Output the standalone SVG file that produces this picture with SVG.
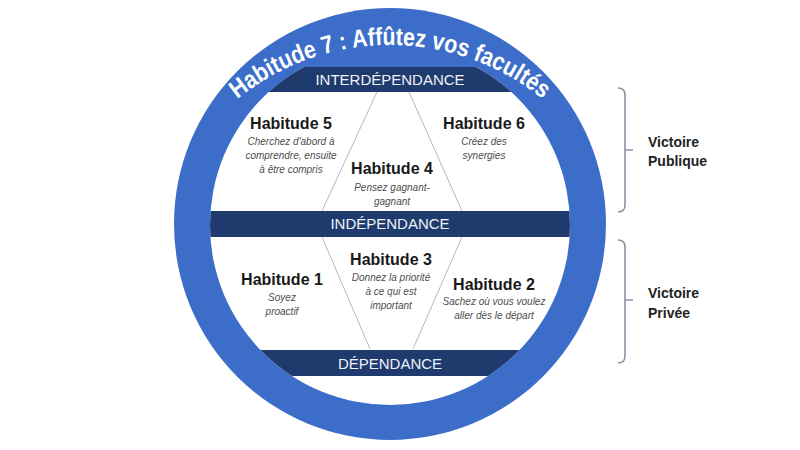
<svg xmlns="http://www.w3.org/2000/svg" width="800" height="450" viewBox="0 0 800 450">
<style>
.hdr{font-family:"Liberation Sans",Arial,sans-serif;font-weight:bold;font-size:16px;fill:#1a1a1a;text-anchor:middle}
.sub{font-family:"Liberation Sans",Arial,sans-serif;font-style:italic;font-size:10px;fill:#4d4d4d;text-anchor:middle}
.band{fill:#1f3a6d}
.bandtxt{font-family:"Liberation Sans",Arial,sans-serif;font-size:15px;fill:#eef2fa;text-anchor:middle}
.hex{stroke:#b8b8b8;stroke-width:1;fill:none}
.brk{stroke:#8a93a6;stroke-width:1.6;fill:none}
.vic{font-family:"Liberation Sans",Arial,sans-serif;font-weight:bold;font-size:14px;fill:#222}
.title{font-family:"Liberation Sans",Arial,sans-serif;font-weight:bold;font-size:25px;fill:#ffffff}
</style>
<defs>
<clipPath id="inner"><circle cx="390" cy="225" r="180"/></clipPath>
<clipPath id="belowtop"><rect x="0" y="67" width="800" height="400"/></clipPath>
<path id="arc" d="M180.4,166 A242,242 0 0 1 599.6,166"/>
</defs>
<rect width="800" height="450" fill="#ffffff"/>
<g id="ring">
<circle cx="390" cy="224" r="216" fill="#3b6dc9"/>
<g clip-path="url(#belowtop)"><circle cx="390" cy="225" r="180" fill="#ffffff"/></g>
<text class="title"><textPath href="#arc" startOffset="50%" text-anchor="middle" textLength="330" lengthAdjust="spacingAndGlyphs">Habitude 7 : Affûtez vos facultés</textPath></text>
</g>
<g id="connectors">
<line class="hex" x1="377" y1="92" x2="322" y2="211"/>
<line class="hex" x1="409" y1="92" x2="462" y2="211"/>
<line class="hex" x1="322" y1="237" x2="370" y2="349"/>
<line class="hex" x1="462" y1="237" x2="413" y2="349"/>
</g>
<g id="interdependance">
<rect class="band" x="150" y="67" width="500" height="25" clip-path="url(#inner)"/>
<text class="bandtxt" x="390" y="85">INTERDÉPENDANCE</text>
</g>
<g id="independance">
<rect class="band" x="150" y="211" width="500" height="26" clip-path="url(#inner)"/>
<text class="bandtxt" x="390" y="229">INDÉPENDANCE</text>
</g>
<g id="dependance">
<rect class="band" x="150" y="350" width="500" height="26" clip-path="url(#inner)"/>
<text class="bandtxt" x="390" y="369">DÉPENDANCE</text>
</g>
<g id="habitude5">
<text class="hdr" x="291" y="129">Habitude 5</text>
<text class="sub" x="291" y="145">Cherchez d'abord à</text>
<text class="sub" x="291" y="159">comprendre, ensuite</text>
<text class="sub" x="291" y="173">à être compris</text>
</g>
<g id="habitude6">
<text class="hdr" x="484" y="129">Habitude 6</text>
<text class="sub" x="484" y="145">Créez des</text>
<text class="sub" x="484" y="159">synergies</text>
</g>
<g id="habitude4">
<text class="hdr" x="392" y="174">Habitude 4</text>
<text class="sub" x="392" y="191">Pensez gagnant-</text>
<text class="sub" x="392" y="205">gagnant</text>
</g>
<g id="habitude3">
<text class="hdr" x="391" y="265">Habitude 3</text>
<text class="sub" x="391" y="281">Donnez la priorité</text>
<text class="sub" x="391" y="295">à ce qui est</text>
<text class="sub" x="391" y="309">important</text>
</g>
<g id="habitude1">
<text class="hdr" x="282" y="285">Habitude 1</text>
<text class="sub" x="282" y="301">Soyez</text>
<text class="sub" x="282" y="315">proactif</text>
</g>
<g id="habitude2">
<text class="hdr" x="494" y="290">Habitude 2</text>
<text class="sub" x="494" y="305">Sachez où vous voulez</text>
<text class="sub" x="494" y="319">aller dès le départ</text>
</g>
<g id="victoire-publique">
<path class="brk" d="M618,88 Q625,88 625,95 L625,205 Q625,212 618,212 M625,150 L633,150"/>
<text class="vic" x="648" y="147">Victoire</text>
<text class="vic" x="648" y="166">Publique</text>
</g>
<g id="victoire-privee">
<path class="brk" d="M618,240 Q625,240 625,247 L625,356 Q625,363 618,363 M625,300 L633,300"/>
<text class="vic" x="648" y="298">Victoire</text>
<text class="vic" x="648" y="318">Privée</text>
</g>
</svg>
